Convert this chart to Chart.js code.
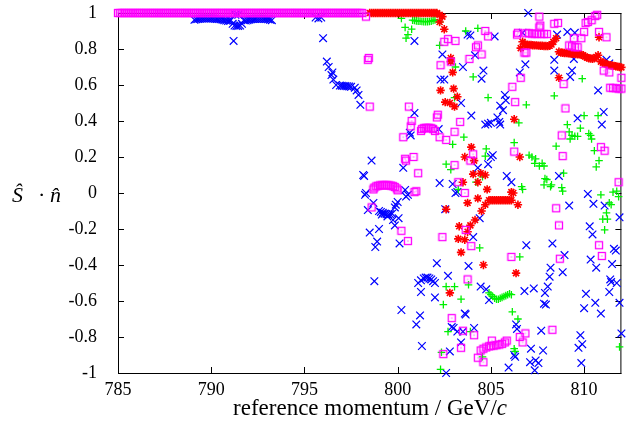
<!DOCTYPE html>
<html>
<head>
<meta charset="utf-8">
<script src="https://cdn.jsdelivr.net/npm/chart.js@4.4.1/dist/chart.umd.min.js"></script>
<style>
  html, body { margin: 0; padding: 0; background: #fff; }
</style>
</head>
<body>
<canvas id="chart" width="628" height="436"></canvas>
<script>
// Axis ticks
const xTickValues = [785, 790, 795, 800, 805, 810];
const yTickValues = [-1, -0.8, -0.6, -0.4, -0.2, 0, 0.2, 0.4, 0.6, 0.8, 1];

// Saturated rows sitting on S.n = 1
const topRowY = 1;
const pinkTopX = [
  785,785.1,785.2,785.3,785.4,785.5,785.6,785.7,785.8,785.9,
  786,786.1,786.2,786.3,786.4,786.5,786.6,786.7,786.8,786.9,
  787,787.1,787.2,787.3,787.4,787.5,787.6,787.7,787.8,787.9,
  788,788.1,788.2,788.3,788.4,788.5,788.6,788.7,788.8,788.9,
  789,789.1,789.2,789.3,789.4,789.5,789.6,789.7,789.8,789.9,
  790,790.1,790.2,790.3,790.4,790.5,790.6,790.7,790.8,790.9,
  791,791.1,791.2,791.3,791.4,791.5,791.6,791.7,791.8,791.9,
  792,792.1,792.2,792.3,792.4,792.5,792.6,792.7,792.8,792.9,
  793,793.1,793.2,793.3,793.4,793.5,793.6,793.7,793.8,793.9,
  794,794.1,794.2,794.3,794.4,794.5,794.6,794.7,794.8,794.9,
  795,795.1,795.2,795.3,795.4,795.5,795.6,795.7,795.8,795.9,
  796,796.1,796.2,796.3,796.4,796.5,796.6,796.7,796.8,796.9,
  797,797.1,797.2,797.3,797.4,797.5,797.6,797.7,797.8,797.9,
  798,798.1
];
const redTopX = [
  798.5,798.6,798.7,798.8,798.9,799,799.1,799.2,799.3,799.4,799.5,799.6,799.7,799.8,799.9,
  800,800.1,800.2,800.3,800.4,800.5,800.6,800.7,800.8,800.9,
  801,801.1,801.2,801.3,801.4,801.5,801.6,801.7,801.8,801.9,802,802.1
];

// Blue crosses [momentum, S.n]
const bluePoints = [
  [789.1,0.962],[789.2,0.965],[789.3,0.967],[789.4,0.968],[789.5,0.969],[789.6,0.969],[789.7,0.97],[789.8,0.97],
  [789.9,0.97],[790.0,0.97],[790.1,0.969],[790.2,0.968],[790.3,0.967],[790.4,0.966],[790.5,0.965],[790.6,0.963],
  [790.7,0.96],[790.8,0.958],[790.9,0.956],[791.0,0.957],
  [791.05,0.96],[791.15,0.94],[791.25,0.93],[791.35,0.928],[791.45,0.928],[791.55,0.93],[791.65,0.94],[791.75,0.96],
  [791.3,0.99],[791.45,0.99],
  [791.85,0.958],[791.95,0.96],[792.05,0.963],[792.15,0.965],[792.25,0.966],[792.35,0.967],[792.45,0.968],[792.55,0.968],
  [792.65,0.968],[792.75,0.968],[792.85,0.967],[792.95,0.966],[793.05,0.965],[793.15,0.963],[793.25,0.96],
  [791.2,0.845],
  [795.6,0.975],[795.75,0.97],[795.9,0.975],[796.0,0.86],
  [796.2,0.73],[796.3,0.70],[796.45,0.655],[796.5,0.67],[796.55,0.63],[796.7,0.60],[796.9,0.597],[797.0,0.596],
  [797.1,0.595],[797.2,0.594],[797.3,0.593],[797.4,0.592],[797.5,0.59],[797.7,0.585],[797.8,0.57],[797.9,0.545],[798.0,0.49],
  [800.9,0.845],[802.4,0.77],[802.3,0.63],[802.5,0.63],[800.9,0.445],[802.2,0.355],[800.7,0.32],[800.65,0.335],
  [798.6,0.18],[798.15,0.10],[798.2,0.095],[800.3,0.14],[798.3,0.0],[798.25,-0.01],[798.7,-0.055],[798.4,-0.095],
  [800.0,-0.05],[799.9,-0.065],[799.85,-0.08],[800.4,0.017],[800.55,-0.01],[800.45,-0.02],
  [799.0,-0.1],[799.1,-0.105],[799.2,-0.11],[799.3,-0.115],[799.4,-0.118],[799.5,-0.12],[799.6,-0.118],[799.7,-0.115],
  [799.15,-0.12],[799.45,-0.13],
  [799.75,-0.15],[800.05,-0.14],[799.85,-0.18],[798.5,-0.22],[799.0,-0.2],[798.9,-0.27],[798.8,-0.30],[800.1,-0.28],
  [802.1,-0.39],[798.75,-0.49],[801.1,-0.5],[801.25,-0.485],[801.4,-0.475],[801.5,-0.47],[801.6,-0.47],[801.7,-0.475],
  [801.8,-0.48],[801.9,-0.49],[802.0,-0.5],[802.7,-0.46],
  [801.25,-0.55],[802.0,-0.58],[800.2,-0.65],[801.2,-0.68],[801.0,-0.73],[802.9,-0.745],[803.0,-0.75],[801.3,-0.85],
  [802.8,-0.88],[802.6,-1.0],
  [807.0,1.0],[803.75,0.88],[803.9,0.875],[805.2,0.87],[806.7,0.89],[808.55,0.88],[809.1,0.895],[809.5,0.89],
  [804.15,0.765],[808.4,0.74],[809.45,0.745],[806.85,0.715],[811.2,0.74],[811.35,0.72],[803.5,0.70],[804.6,0.68],
  [804.5,0.635],[806.55,0.67],[808.4,0.68],[809.35,0.68],[809.25,0.645],[810.75,0.57],[805.75,0.545],[805.8,0.515],
  [803.4,0.50],[805.5,0.485],[805.65,0.46],[803.95,0.43],[805.35,0.42],[805.45,0.395],[805.0,0.39],[804.7,0.38],
  [804.85,0.385],[805.5,0.38],[809.65,0.415],[811.05,0.45],[810.95,0.38],
  [805.1,0.21],[805.0,0.2],[804.85,0.16],[804.3,0.14],[802.25,0.055],[802.95,0.05],[803.2,0.005],[803.1,0.0],
  [805.85,0.095],[806.1,0.06],[808.65,0.095],[810.2,-0.005],[810.5,-0.06],[811.1,-0.07],[811.9,-0.135],[804.4,-0.14],
  [804.05,-0.245],[802.55,-0.09],[809.2,-0.07],[810.3,-0.185],[810.45,-0.23],[806.9,-0.29],[808.3,-0.28],[811.6,-0.31],
  [811.7,-0.32],[808.95,-0.345],[810.35,-0.37],[811.5,-0.395],[810.65,-0.415],[803.8,-0.405],[808.2,-0.415],
  [808.85,-0.44],[808.15,-0.465],[811.4,-0.48],[811.75,-0.50],[804.45,-0.52],[804.75,-0.535],[806.8,-0.545],
  [807.3,-0.53],[808.05,-0.52],
  [804.9,-0.595],[807.9,-0.555],[810.1,-0.56],[811.35,-0.55],[811.45,-0.495],[807.85,-0.615],[807.95,-0.62],
  [810.6,-0.61],[810.9,-0.67],[810.0,-0.64],[811.9,-0.61],[803.6,-0.67],[803.65,-0.675],[806.35,-0.73],[806.4,-0.755],
  [803.2,-0.77],[803.5,-0.77],[804.1,-0.75],[803.4,-0.83],[807.7,-0.765],[809.8,-0.79],[809.9,-0.84],[809.7,-0.86],
  [812.0,-0.78],[807.15,-0.865],[807.8,-0.875],[806.25,-0.9],[806.3,-0.91],[805.95,-0.97],[807.1,-0.94],[807.4,-0.93],
  [807.55,-0.945],[807.35,-0.985],[809.85,-0.945]
];

// Red stars
const redPoints = [
  [802.25,0.99],[802.4,0.98],[802.25,0.95],[802.5,0.91],[802.85,0.75],[802.85,0.73],[802.95,0.67],[802.3,0.57],
  [803.0,0.58],[802.55,0.505],[802.8,0.50],[803.05,0.48],[803.2,0.535],
  [806.6,0.805],[806.7,0.84],[806.85,0.825],[806.95,0.824],[807.05,0.823],[807.15,0.822],[807.25,0.821],[807.35,0.82],
  [807.45,0.82],[807.55,0.819],[807.65,0.818],[807.75,0.818],[807.85,0.817],[807.95,0.817],[808.05,0.816],[808.15,0.818],
  [808.25,0.825],[808.35,0.84],[808.5,0.86],
  [808.65,0.785],[808.75,0.78],[808.85,0.779],[808.95,0.778],[809.05,0.777],[809.15,0.776],[809.25,0.775],[809.35,0.774],
  [809.45,0.773],[809.55,0.772],[809.65,0.771],[809.75,0.77],[809.85,0.768],[809.95,0.765],
  [810.05,0.758],[810.15,0.752],[810.25,0.749],[810.35,0.747],[810.45,0.746],[810.55,0.748],[810.65,0.755],[810.75,0.765],
  [810.9,0.73],[811.0,0.725],[811.1,0.72],[811.2,0.715],[811.3,0.712],[811.4,0.71],[811.5,0.708],[811.6,0.706],
  [811.7,0.704],[811.8,0.702],[811.9,0.70],[812.0,0.698],
  [810.8,0.865],
  [806.25,0.41],[808.65,0.64],[803.95,0.255],[803.6,0.20],[804.1,0.18],[806.55,0.20],[804.05,0.105],[804.45,0.11],
  [804.7,0.10],[803.5,0.06],[804.3,0.06],[804.8,0.02],
  [804.9,-0.04],[805.0,-0.04],[805.1,-0.04],[805.2,-0.04],[805.3,-0.04],[805.4,-0.04],[805.5,-0.04],[805.6,-0.04],
  [805.7,-0.04],[805.8,-0.04],[805.9,-0.04],[806.0,-0.04],[806.1,-0.04],
  [806.1,0.005],[806.2,0.0],[806.45,-0.065],[804.7,-0.065],[804.3,-0.03],[803.75,-0.055],[804.5,-0.10],[804.15,-0.15],
  [803.9,-0.18],[803.3,-0.185],[803.75,-0.215],[803.25,-0.255],[803.6,-0.26],[803.4,-0.33],[802.6,-0.09],[804.6,-0.40],
  [806.35,-0.445],[802.8,-0.555]
];

// Green plusses
const greenPoints = [
  [800.2,0.97],[800.4,0.92],[800.75,0.91],[800.45,0.86],[800.55,0.88],
  [800.8,0.96],[800.9,0.958],[801.0,0.956],[801.1,0.955],[801.2,0.954],[801.3,0.953],[801.4,0.952],[801.5,0.952],
  [801.6,0.952],[801.7,0.953],[801.8,0.955],[801.9,0.958],[802.0,0.962],
  [802.25,0.95],[802.25,0.82],[803.1,0.70],[803.05,0.53],[802.95,0.27],
  [803.65,0.90],[804.3,0.915],[804.05,0.645],[809.9,0.635],[804.85,0.53],[808.4,0.54],[806.9,0.49],[810.0,0.43],
  [810.75,0.43],[806.5,0.39],[803.55,0.31],[804.75,0.245],[806.25,0.28],[808.5,0.26],[809.1,0.38],[809.2,0.34],
  [809.8,0.36],[809.35,0.32],[809.5,0.315],[809.65,0.315],[810.25,0.33],[810.35,0.32],[810.4,0.30],[809.25,0.30],
  [804.7,0.205],[802.6,0.16],[802.85,0.13],[807.05,0.21],[807.2,0.2],[807.4,0.19],[807.35,0.165],[807.75,0.165],
  [807.6,0.15],[807.85,0.15],[810.55,0.235],[810.8,0.18],[810.65,0.145],[804.55,0.09],[804.2,0.06],[803.25,0.02],
  [808.9,0.11],[807.9,0.08],[808.0,0.075],[808.25,0.045],[807.85,0.045],[808.2,0.035],[808.85,0.01],[808.8,0.03],
  [806.65,0.035],[806.7,0.02],[811.55,0.005],[811.75,0.01],[811.85,-0.02],[810.9,-0.01],[811.35,-0.055],[811.45,-0.065],
  [811.2,-0.11],[811.0,-0.145],[811.25,-0.145],[811.1,-0.205],[804.4,-0.305],[806.55,-0.355],[803.8,-0.51],
  [802.6,-0.52],[803.05,-0.52],
  [804.9,-0.555],[805.0,-0.565],[805.1,-0.575],[805.2,-0.585],[805.3,-0.59],[805.4,-0.59],[805.5,-0.585],[805.6,-0.58],
  [805.7,-0.575],[805.8,-0.57],[805.9,-0.565],[806.0,-0.56],[806.1,-0.565],
  [803.4,-0.59],[802.45,-0.62],[806.15,-0.66],[806.45,-0.70],[802.7,-0.77],[803.9,-0.77],[811.9,-0.855],[806.25,-0.865],
  [806.3,-0.88],[804.55,-0.91],[802.3,-0.98],[802.35,-0.885]
];

// Magenta squares
const pinkPoints = [
  [798.3,0.98],[798.4,0.74],[798.45,0.75],[798.5,0.48],
  [802.5,0.84],[802.7,0.855],[803.1,0.845],[802.85,0.73],[802.3,0.71],
  [800.6,0.48],[800.75,0.40],[800.7,0.37],
  [801.25,0.345],[801.3,0.355],[801.4,0.36],[801.5,0.362],[801.6,0.362],[801.7,0.362],[801.8,0.36],[801.9,0.355],[802.0,0.345],
  [802.1,0.42],[802.15,0.435],[800.3,0.31],[802.25,0.31],[802.6,0.295],[803.05,0.34],
  [807.6,0.98],[810.08,0.944],[810.2,0.95],[810.4,0.96],[810.6,0.983],[810.7,0.99],
  [804.7,0.90],[807.6,0.92],[807.65,0.93],[808.4,0.94],[808.6,0.945],[804.85,0.87],[806.4,0.88],[806.45,0.89],
  [806.9,0.888],[807.05,0.887],[807.2,0.886],[807.35,0.885],[807.5,0.884],[807.7,0.884],[807.85,0.883],[808.0,0.883],
  [810.0,0.895],[810.8,0.895],[811.2,0.865],
  [809.2,0.82],[809.35,0.815],[809.5,0.81],[809.65,0.81],
  [809.45,0.86],[809.85,0.86],[804.2,0.81],[804.3,0.82],[804.5,0.77],[806.8,0.78],[806.9,0.78],[803.85,0.745],
  [811.05,0.68],[811.35,0.67],[806.6,0.64],[808.9,0.605],[812.0,0.64],
  [811.4,0.585],[811.55,0.583],[811.7,0.582],[811.85,0.58],[812.0,0.58],
  [806.15,0.59],[806.3,0.505],[809.0,0.47],[803.35,0.395],[808.8,0.32],[810.9,0.255],[811.1,0.235],
  [800.4,0.19],[800.45,0.18],[800.85,0.20],[801.1,0.11],[803.05,0.155],
  [798.7,0.02],[798.75,0.03],[798.85,0.037],[798.95,0.04],[799.05,0.042],[799.15,0.043],[799.25,0.043],[799.35,0.043],
  [799.45,0.043],[799.55,0.042],[799.65,0.041],[799.75,0.038],[799.85,0.033],[799.95,0.025],[800.0,0.015],
  [800.9,0.005],[801.0,0.01],[798.6,-0.08],[800.2,-0.21],[800.55,-0.267],[802.4,-0.245],
  [806.25,0.23],[804.05,0.215],[803.9,0.18],[808.85,0.205],[803.25,0.06],[803.6,0.0],[811.85,0.06],[808.5,-0.085],
  [808.65,-0.18],[803.65,-0.205],[803.95,-0.295],[810.8,-0.29],[810.95,-0.35],[806.1,-0.355],[808.7,-0.365],[803.75,-0.48],
  [802.9,-0.695],[803.5,-0.765],[804.1,-0.79],[803.4,-0.86],[802.45,-0.895],[808.3,-0.76],[806.55,-0.80],[806.85,-0.78],
  [806.7,-0.83],
  [804.45,-0.875],[804.6,-0.865],[804.75,-0.858],[804.9,-0.852],[805.05,-0.82],[805.0,-0.85],[805.15,-0.848],[805.3,-0.845],
  [805.45,-0.842],[805.6,-0.838],[805.75,-0.83],[805.85,-0.82],
  [804.3,-0.915],[804.6,-0.94]
];

const serif = '"Liberation Serif", "Times New Roman", serif';

// Open square with a dot in the middle, like the gnuplot marker
function squareDot(color) {
  const c = document.createElement('canvas');
  c.width = 10;
  c.height = 10;
  const g = c.getContext('2d');
  g.strokeStyle = color;
  g.lineWidth = 1.3;
  g.strokeRect(1.5, 1.5, 7, 7);
  g.fillStyle = color;
  g.fillRect(4.5, 4.5, 1, 1);
  return c;
}

const toXY = pts => pts.map(p => ({ x: p[0], y: p[1] }));
const topRow = xs => xs.map(x => ({ x: x, y: topRowY }));

// Drop the label overflow padding so the plot box lands where the reference has it
function noOverflow(s) {
  s.paddingTop = 0;
  s.paddingBottom = 0;
  s.paddingLeft = 0;
  s.paddingRight = 0;
}

// Frame, inward ticks and axis titles
const gnuplotFrame = {
  id: 'gnuplotFrame',
  beforeDatasetsDraw(chart) {
    const { ctx, chartArea: a, scales: { x, y } } = chart;
    ctx.save();
    ctx.strokeStyle = '#000';
    ctx.lineWidth = 1;
    ctx.strokeRect(a.left + 0.5, a.top + 0.5, a.right - a.left - 1, a.bottom - a.top);
    ctx.beginPath();
    for (const v of xTickValues) {
      const px = Math.round(x.getPixelForValue(v)) + 0.5;
      ctx.moveTo(px, a.bottom);
      ctx.lineTo(px, a.bottom - 6);
      ctx.moveTo(px, a.top);
      ctx.lineTo(px, a.top + 6);
    }
    for (const v of yTickValues) {
      const py = Math.round(y.getPixelForValue(v)) + 0.5;
      ctx.moveTo(a.left, py);
      ctx.lineTo(a.left + 6, py);
      ctx.moveTo(a.right, py);
      ctx.lineTo(a.right - 6, py);
    }
    ctx.stroke();
    ctx.restore();
  },
  afterDraw(chart) {
    const { ctx, chartArea: a } = chart;
    ctx.save();
    ctx.fillStyle = '#000';
    ctx.textBaseline = 'alphabetic';
    ctx.textAlign = 'left';

    // x title with an italic c
    const main = 'reference momentum / GeV/';
    ctx.font = '23px ' + serif;
    const w1 = ctx.measureText(main).width;
    ctx.font = 'italic 23px ' + serif;
    const w2 = ctx.measureText('c').width;
    const sx = 370 - (w1 + w2) / 2;
    ctx.font = '23px ' + serif;
    ctx.fillText(main, sx, 415);
    ctx.font = 'italic 23px ' + serif;
    ctx.fillText('c', sx + w1, 415);

    // y title, kept horizontal
    ctx.font = 'italic 22px ' + serif;
    ctx.fillText('\u015C', 12, 202);
    ctx.font = '22px ' + serif;
    ctx.fillText('\u00B7', 38, 202);
    ctx.font = 'italic 22px ' + serif;
    ctx.fillText('n\u0302', 50, 202);
    ctx.restore();
  }
};

new Chart(document.getElementById('chart'), {
  type: 'scatter',
  data: {
    datasets: [
      {
        label: 'magenta',
        order: 0,
        data: topRow(pinkTopX).concat(toXY(pinkPoints)),
        pointStyle: squareDot('#ff00ff'),
        pointRadius: 4
      },
      {
        label: 'red',
        order: 1,
        data: topRow(redTopX).concat(toXY(redPoints)),
        pointStyle: 'star',
        pointRadius: 4.2,
        borderColor: '#ff0000',
        pointBorderWidth: 1.6
      },
      {
        label: 'green',
        order: 2,
        data: toXY(greenPoints),
        pointStyle: 'cross',
        pointRadius: 3.8,
        borderColor: '#00f000',
        pointBorderWidth: 1.3
      },
      {
        label: 'blue',
        order: 3,
        data: toXY(bluePoints),
        pointStyle: 'crossRot',
        pointRadius: 5.4,
        borderColor: '#0000ff',
        pointBorderWidth: 1.2
      }
    ]
  },
  options: {
    responsive: false,
    animation: false,
    events: [],
    clip: false,
    layout: {
      padding: { top: 13, right: 3, left: 0, bottom: 0 }
    },
    plugins: {
      legend: { display: false },
      tooltip: { enabled: false }
    },
    scales: {
      x: {
        type: 'linear',
        min: 785,
        max: 812,
        grid: { display: false },
        border: { display: false },
        afterBuildTicks: s => { s.ticks = xTickValues.map(v => ({ value: v })); },
        afterFit: s => { s.height = 63; noOverflow(s); },
        ticks: {
          stepSize: 5,
          autoSkip: false,
          maxRotation: 0,
          padding: -2,
          color: '#000',
          font: { family: serif, size: 18 }
        }
      },
      y: {
        type: 'linear',
        min: -1,
        max: 1,
        grid: { display: false },
        border: { display: false },
        afterFit: s => { s.width = 118; noOverflow(s); },
        ticks: {
          stepSize: 0.2,
          autoSkip: false,
          padding: 13,
          color: '#000',
          font: { family: serif, size: 18 },
          callback: v => {
            const r = Math.round(v * 10) / 10;
            return r === 0 ? '0' : String(r);
          }
        }
      }
    }
  },
  plugins: [gnuplotFrame]
});
</script>
</body>
</html>
